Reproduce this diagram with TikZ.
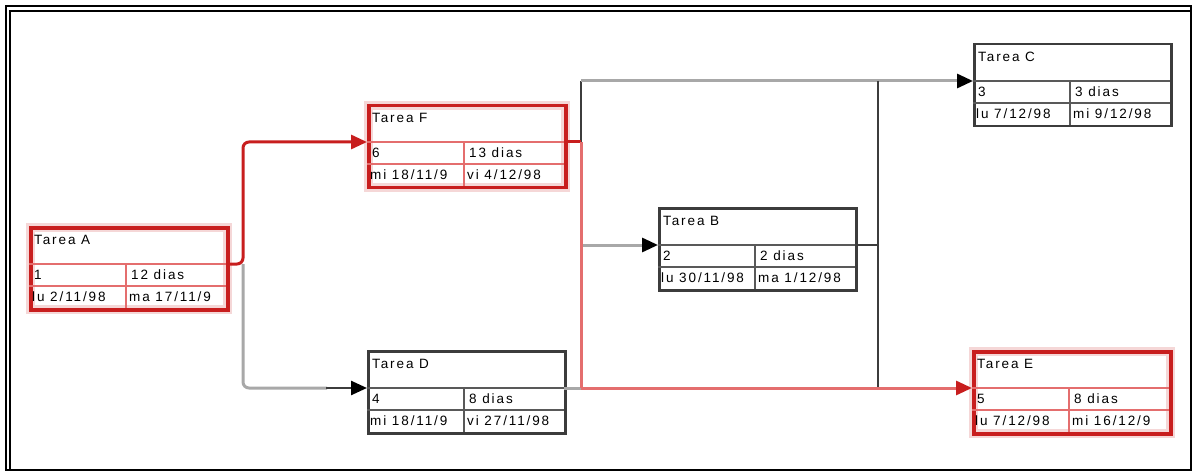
\documentclass[tikz,border=0pt]{standalone}
\usepackage{fontspec}
\usepackage{tikz}
\usetikzlibrary{arrows.meta, positioning, calc}
\newfontfamily\boxfont[LetterSpace=14]{Liberation Sans}
\definecolor{critred}{RGB}{200, 30, 30}
\definecolor{critpink}{RGB}{228, 110, 110}
\definecolor{linkgray}{RGB}{168, 168, 168}
\definecolor{darkline}{RGB}{60, 60, 60}

\tikzset{
  normal/.style={draw=darkline, line width=2.5pt},
  normal cell/.style={draw=darkline!85, line width=2pt},
  critical/.style={draw=critred, line width=3.5pt,
    preaction={draw=critred!18, line width=9pt}},
  critical cell/.style={draw=critpink, line width=2pt},
  txt/.style={anchor=west, inner sep=0pt, font=\boxfont\fontsize{13.5}{15}\selectfont},
  critlink/.style={draw=critred, line width=3pt},
  softlink/.style={draw=critpink, line width=3pt},
  greylink/.style={draw=linkgray, line width=3pt},
  darklink/.style={draw=darkline, line width=2.5pt}
}

% one task box: name, top-left, style, title, id, duration, start, end
\newcommand{\tarea}[8]{%
  \begin{scope}[shift={#2}]
    \node[#3, minimum width=197, minimum height=82, inner sep=0pt,
          anchor=north west] (#1) at (0,0) {};
    \draw[#3 cell] (0,38) -- (197,38) (0,60) -- (197,60) (97,38) -- (97,82);
    \node[txt] (#1 title) at (5,14) {#4};
    \node[txt] (#1 id)    at (5,49) {#5};
    \node[txt] (#1 dur)   at (102,49) {#6};
    \node[txt] (#1 start) at (3,71) {#7};
    \node[txt] (#1 end)   at (100,71) {#8};
    \coordinate (#1 in)  at (0,38);
    \coordinate (#1 out) at (197,38);
  \end{scope}}

\begin{document}
\begin{tikzpicture}[x=1pt, y=-1pt]
  \useasboundingbox (0,0) rectangle (1193,473);
  % frame
  \draw[line width=2pt] (6,6) rectangle (1191,470);
  \draw[line width=2pt] (10,470) -- (10,11) -- (1191,11);

  % tasks
  \tarea{A}{(29,226)}{critical}{Tarea A}{1}{12 dias}{lu 2/11/98}{ma 17/11/9}
  \tarea{F}{(367,104)}{critical}{Tarea F}{6}{13 dias}{mi 18/11/9}{vi 4/12/98}
  \tarea{D}{(367,350)}{normal}{Tarea D}{4}{8 dias}{mi 18/11/9}{vi 27/11/98}
  \tarea{B}{(658,207)}{normal}{Tarea B}{2}{2 dias}{lu 30/11/98}{ma 1/12/98}
  \tarea{C}{(973,43)}{normal}{Tarea C}{3}{3 dias}{lu 7/12/98}{mi 9/12/98}
  \tarea{E}{(972,350)}{critical}{Tarea E}{5}{8 dias}{lu 7/12/98}{mi 16/12/9}

  \coordinate (splitA) at ([xshift=17pt]A out);
  \coordinate (splitF) at ([xshift=17pt]F out);
  \coordinate (joinB) at ([xshift=23pt]B out);

  % non critical links
  \draw[greylink, rounded corners=6pt] (splitA) |- ([xshift=-40pt]D in);
  \draw[darklink, -{Triangle[color=black, length=16pt, width=14pt]}]
    ([xshift=-41pt]D in) -- (D in);
  \draw[darklink] (splitF) -- (splitF |- C in);
  \draw[greylink, {Triangle[color=black, length=16pt, width=14pt]}-] (C in) -- (splitF |- C in);
  \draw[greylink, {Triangle[color=black, length=16pt, width=14pt]}-] (B in) -- (splitF |- B in);
  \draw[greylink] (D out) -- (splitF |- D out);
  \draw[darklink] (B out) -- (joinB);
  \draw[darklink] (joinB |- C in) -- (joinB |- E in);

  % critical path
  \draw[critlink, rounded corners=6pt, -{Triangle[length=16pt, width=14pt]}]
    (A out) -- (splitA) |- (F in);
  \draw[critlink] (F out) -- (splitF);
  \draw[softlink] (splitF) -- (splitF |- E in);
  \draw[softlink, -{Triangle[color=critred, length=16pt, width=14pt]}]
    (splitF |- E in) -- (E in);
\end{tikzpicture}
\end{document}
